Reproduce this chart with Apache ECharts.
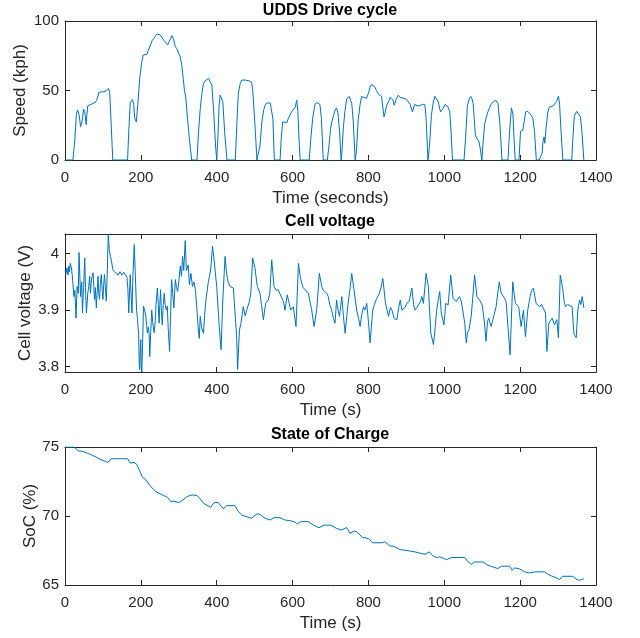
<!DOCTYPE html>
<html>
<head>
<meta charset="utf-8">
<script src="https://cdn.jsdelivr.net/npm/echarts@6/dist/echarts.min.js"></script>
<style>
html,body{margin:0;padding:0;background:#fff;}
#chart{width:640px;height:638px;}
</style>
</head>
<body>
<div id="chart"></div>
<script>
// ---- Data ----
const titles = ['UDDS Drive cycle', 'Cell voltage', 'State of Charge'];
const xTickLabels = [0, 200, 400, 600, 800, 1000, 1200, 1400];

const speedTime = [0,21,26,30,33,37,41,45,49,52,55.6,58,60,65,72,80,85,89,95,102,106,110,115,118,121,126,165,168,172,175,178,181,184,188,192,197,202,206,211,216,220,225,230,234,238,242.5,247,251,255,260,265,270.5,276,282,286,291,295,299.5,304,308,312,315,318,321.5,328,334,348,352,356.6,361,365,370,378.5,383,387,392,397,400,403,406,409,412,416,421,427,449,453,457,462,466,475,485,492,495,497,502,506,510,514,519,524,527.6,532,536,541,545,548,552,567,570,574,579,585,589,593,597,602,607,611,614,617,620,644,648,653,659,663,668,672,676,681,691.6,696,700,703,708,712,716,720,724,728,730,733.8,738,742.6,749.6,753,756,760,765,768,773,778,782,788,795,800,804,808,812,817,821,826,830,834.5,838,841,844,848,853,857,861,865,868,872,878.5,884,891.6,898,904.7,910,916,922,928,935.5,942,948.7,952,957,961,966,970,975,980,984,990,997,1002,1006,1010,1014.5,1018,1021.6,1052,1056,1061,1066,1070,1073,1076,1079,1082,1087,1091,1095,1099,1103,1106.6,1111,1115,1120,1124,1130,1135.5,1139,1141.6,1147,1152,1168,1172,1177,1181,1184,1187,1197,1201,1207,1211,1214.5,1220,1225,1230,1233.7,1238,1242.6,1250,1255,1258,1260,1263,1265,1268,1273,1277,1282,1287,1291,1296,1301,1304,1308,1312.6,1336,1340,1343,1349.5,1354,1359,1363,1368,1369];
const speedKph = [0,0,15,33,36,33,24,28,36.5,35,25.5,33,39,40,40.5,41.5,44,48.5,49,49,48,50,51.5,48,30,0,0,20,41.5,42,43.5,40,30,27.4,40,58.7,70,75.5,76,76,79,82.7,86,87.5,89,90.6,91,90,88.5,86.3,85,82.7,86,89.4,87,81.5,80,79,74,68,58,50,46,34.6,15,0,0,20,37,48,55,57,58.7,58,54,35,10,0,15,38,46.6,47,42,20,0,0,25,48,55,57.5,57.5,57,56,50,41.8,20,0,0,10,27.4,36,39.4,41,41.5,41,40,30,0,0,15,27.4,28,27,30,32.2,34.5,35.8,38,43,35,15,0,0,15,30,40,41.5,42.3,40,30,0,0,10,22,27,32,35.8,37.5,33,20,0,5,23,35,44,45.7,45,40.7,28,0,5,29,40,45.7,45,44.5,48,52,54.3,54,52.6,50,47.4,47,45.7,38,31,34,39.4,42,45,46.2,43,39.4,43,46.6,45,44.5,44,42,40,34.6,40,39,39,40,40,30,0,10,32,40,45.9,45,42,34.6,37,40,40.6,38,34.6,20,0,0,15,39.4,44,45.7,44,40.7,30,17.8,15,13.5,8,0,15,26.2,31,34.6,38,40.7,42,43,42,40.7,25,0,0,20,37.5,33,15,0,0,20.7,21.5,28,34.6,35,34,32,29.7,20,0,0,1,5,13,16.6,12,22,34.6,38,38,39,39.4,42,46,40,20,0,0,20,32,35,34,31,20,0,0];

const voltTime = [0,3,5,8,10,12,14,17,20,23.5,26,29,32,35,37,41,44,46,49,52,54,56.5,60,62.6,65,67,70,74,76,78,80,82.6,85,87,89,91,93,95.7,98,100,102,104,107,109,112,114,117,120,123,126,130,135,140,145,150,155,160,163.5,166,168,170,172,174,176.5,179,182.6,185,188.7,191,194,196,197,199,200,201,202.6,205,207,210,213,215,217,220,222,223.5,226,228.7,231,235,238,240,243.5,246,248,250,252,254,256.5,259,261.7,264,267,269.6,272,275.7,278,281,284,287,289,291,294,297,300,304,307,310,313,317,320,325,328,332,336,340,344,348,351,354,356.6,360,365,368,372,378,384,389,393,400,406,411.5,416,422,426,430,435,440,444,448,453,455,460,464,470,475,479,486,490,494.7,501,507,514,518,523,529,536,540,545,551,557,562.5,566,571,576,580,586,590,595,602,609,615.5,620,624,628,633,637,641.7,646,650.5,656.6,663.6,670.6,676.8,681,685.5,690,694,698,703,708,712,716,720,723.7,729.8,734,738.6,743,747.4,752,756,762,769,774,778,782,786.8,791,795.6,800,804.4,811.4,816,820,825,829,833,838,845,849,853,858,862,868,875,880,884,888,892.5,897,901,907,914.5,919,923,928,932,937,941,945,952,958,964.5,971.5,976,980,984,988,992,999,1004,1010,1017,1023,1027,1031.6,1036,1040,1045,1049,1054,1058,1061,1065,1071,1076,1080,1086,1093,1100,1106,1110,1114,1117,1123.5,1127,1130.5,1136.6,1141,1145,1150,1155,1158.6,1163,1167.4,1173.5,1180.5,1184,1187.5,1192,1196,1202.6,1208.8,1214,1220,1226.3,1230,1235,1242,1246,1251,1256,1260,1267,1270.5,1275.7,1280,1284.5,1290.6,1296.8,1301,1305.7,1309,1312.6,1316,1319.6,1325,1330,1337,1341.6,1344,1347.8,1352,1356.6,1360,1363.6,1368];
const voltV = [3.970,3.965,3.975,3.962,3.978,3.968,3.983,3.975,3.955,3.924,3.935,3.886,3.942,3.93,4.002,3.924,3.95,3.895,3.94,3.992,3.94,3.895,3.93,3.942,3.96,3.93,3.955,3.966,3.94,3.919,3.94,3.904,3.935,3.96,3.93,3.919,3.945,3.963,3.935,3.919,3.945,3.963,3.935,3.916,3.98,4.0347,4.005,3.995,3.985,3.972,3.968,3.965,3.962,3.968,3.962,3.967,3.962,3.958,3.935,3.895,3.93,3.963,3.93,3.895,3.96,4.016,3.97,3.90,3.885,3.857,3.80,3.795,3.84,3.848,3.80,3.7906,3.85,3.907,3.90,3.889,3.875,3.86,3.87,3.855,3.818,3.86,3.90,3.88,3.86,3.88,3.91,3.939,3.91,3.877,3.91,3.936,3.90,3.874,3.91,3.93,3.91,3.90,3.907,3.87,3.827,3.88,3.954,3.93,3.904,3.93,3.954,3.94,3.933,3.95,3.978,3.96,3.995,3.97,4.023,3.97,3.98,3.945,3.965,3.942,3.95,3.935,3.90,3.87,3.85,3.889,3.87,3.859,3.89,3.921,3.95,3.971,4.013,3.989,3.942,3.877,3.83,3.918,3.995,3.965,3.95,3.942,3.945,3.939,3.936,3.848,3.795,3.865,3.877,3.906,3.89,3.90,3.915,3.93,3.992,3.974,3.942,3.93,3.91,3.883,3.912,3.918,3.93,3.989,3.942,3.935,3.936,3.93,3.93,3.915,3.90,3.927,3.915,3.90,3.906,3.871,3.983,3.96,3.948,3.94,3.936,3.935,3.93,3.915,3.90,3.871,3.90,3.965,3.942,3.935,3.933,3.93,3.924,3.91,3.90,3.885,3.877,3.918,3.90,3.889,3.924,3.89,3.859,3.89,3.918,3.94,3.965,3.936,3.90,3.885,3.871,3.89,3.906,3.90,3.912,3.88,3.842,3.90,3.91,3.918,3.92,3.93,3.94,3.956,3.912,3.90,3.889,3.905,3.90,3.885,3.883,3.905,3.918,3.90,3.90,3.905,3.912,3.915,3.939,3.91,3.90,3.905,3.906,3.915,3.924,3.912,3.965,3.942,3.859,3.839,3.87,3.90,3.918,3.933,3.895,3.874,3.912,3.909,3.962,3.921,3.918,3.915,3.92,3.924,3.915,3.912,3.877,3.842,3.86,3.865,3.889,3.93,3.962,3.924,3.918,3.909,3.877,3.845,3.88,3.886,3.871,3.88,3.877,3.906,3.93,3.95,3.93,3.925,3.921,3.915,3.912,3.821,3.95,3.93,3.912,3.91,3.906,3.871,3.90,3.853,3.90,3.924,3.935,3.939,3.912,3.915,3.906,3.91,3.912,3.895,3.827,3.877,3.88,3.886,3.874,3.883,3.851,3.962,3.95,3.936,3.915,3.906,3.91,3.909,3.906,3.859,3.855,3.851,3.90,3.918,3.91,3.924,3.904];

const socTime = [0,25,34,47,58,69,82,95,106.5,113.5,122,143,165,172,182,188.6,195.6,204,213,226,239,257,270,279,287,300,311,322,335,348,356.6,365,378,384,393,404,418,426,448,457,466,492,505.6,514,527.6,540.8,551,567,580,593,604,612.7,621.5,641.7,654.8,669.7,682.9,700.4,716.2,729.4,742.5,751.3,761.8,768.9,784.6,799.6,811,834.6,843.4,856.6,865.4,883,905,922.5,940,949,960.5,971,979.8,988,1006,1019,1054,1063,1071,1080,1102,1115,1128,1141.4,1150,1172,1179,1185,1198.7,1211.8,1225,1238,1264.5,1273,1282,1295,1304,1311,1339,1350,1357,1368];
const socPct = [75,75,74.73,74.68,74.56,74.44,74.27,74.08,73.96,73.88,74.15,74.15,74.15,73.83,73.88,73.76,73.35,72.82,72.62,72.14,71.77,71.53,71.36,71.04,71.07,70.97,71.17,71.41,71.53,71.48,71.24,70.92,70.73,70.63,70.97,70.97,70.51,70.75,70.75,70.32,70.07,69.83,70.15,70.12,69.83,69.71,69.88,69.88,69.71,69.66,69.59,69.42,69.59,69.59,69.34,69.15,69.34,69.34,69.1,68.98,69.17,68.74,68.91,68.86,68.45,68.37,68.06,68.06,68.13,67.82,67.82,67.57,67.48,67.4,67.28,67.23,67.4,67.09,66.99,67.04,66.84,66.99,66.99,66.67,66.5,66.67,66.67,66.43,66.31,66.19,66.36,66.36,66.07,66.24,66.17,65.95,65.87,65.95,65.95,65.78,65.66,65.53,65.39,65.63,65.63,65.39,65.34,65.46];

const xAxisNames = ['Time (seconds)', 'Time (s)', 'Time (s)'];
const yAxisNames = ['Speed (kph)', 'Cell voltage (V)', 'SoC (%)'];
const yRanges = [[0, 100, 50], [3.7906, 4.0347, null], [65, 75, 5]];
const voltTicks = [3.8, 3.9, 4.0];

// ---- Chart ----
const pair = (ts, vs) => ts.map((t, i) => [t, vs[i]]);
const seriesData = [pair(speedTime, speedKph), pair(voltTime, voltV), pair(socTime, socPct)];

const FONT = 'Liberation Sans, Arial, Helvetica, sans-serif';
const AX = '#262626';
const grids = [
  {left: 65, width: 531, top: 21, height: 139},
  {left: 65, width: 531, top: 234, height: 138},
  {left: 65, width: 531, top: 447, height: 138}
];
const titleCenters = [10.5, 221.5, 435];
const xNameGaps = [30, 30, 30];
const yNameGaps = [36, 31, 26.5];

const xAxes = [], yAxes = [], series = [];
grids.forEach((g, i) => {
  const base = {
    gridIndex: i, type: 'value', min: 0, max: 1400, interval: 200,
    axisLine: {show: true, onZero: false, lineStyle: {color: AX, width: 1}},
    axisTick: {show: true, inside: true, length: 5, lineStyle: {color: AX, width: 1}},
    splitLine: {show: false}
  };
  xAxes.push(Object.assign({}, base, {
    position: 'bottom',
    axisLabel: {color: AX, fontSize: 15, fontFamily: FONT, margin: 10, formatter: v => String(v)},
    name: xAxisNames[i], nameLocation: 'middle', nameGap: xNameGaps[i], nameMoveOverlap: false,
    nameTextStyle: {color: AX, fontSize: 17, fontFamily: FONT}
  }));
  xAxes.push(Object.assign({}, base, {position: 'top', axisLabel: {show: false}}));

  const r = yRanges[i];
  const yb = {
    gridIndex: i, type: 'value', min: r[0], max: r[1],
    axisLine: {show: true, onZero: false, lineStyle: {color: AX, width: 1}},
    axisTick: {show: true, inside: true, length: 5, lineStyle: {color: AX, width: 1}},
    splitLine: {show: false}
  };
  if (r[2] !== null) yb.interval = r[2];
  let leftLabel = {color: AX, fontSize: 15, fontFamily: FONT, margin: 6, formatter: v => String(v)};
  if (r[2] === null) {
    yb.axisTick = Object.assign({}, yb.axisTick, {customValues: voltTicks});
    leftLabel.customValues = voltTicks;
    leftLabel.formatter = v => String(Math.round(v * 10) / 10);
  }
  yAxes.push(Object.assign({}, yb, {
    position: 'left', axisLabel: leftLabel,
    name: yAxisNames[i], nameLocation: 'middle', nameGap: yNameGaps[i], nameMoveOverlap: false,
    nameTextStyle: {color: AX, fontSize: 17, fontFamily: FONT}
  }));
  yAxes.push(Object.assign({}, yb, {position: 'right', axisLabel: {show: false}}));

  series.push({
    type: 'line', xAxisIndex: i * 2, yAxisIndex: i * 2,
    data: seriesData[i], showSymbol: false, symbol: 'none',
    lineStyle: {color: '#0072BD', width: 1}, itemStyle: {color: '#0072BD'},
    animation: false, silent: true
  });
});

const chart = echarts.init(document.getElementById('chart'), null, {renderer: 'canvas'});
chart.setOption({
  backgroundColor: '#ffffff',
  animation: false,
  title: titles.map((t, i) => ({
    text: t, left: 330, top: titleCenters[i], padding: 0,
    textAlign: 'center', textVerticalAlign: 'middle',
    textStyle: {fontSize: 16, fontWeight: 'bold', color: '#000', fontFamily: FONT}
  })),
  grid: grids,
  xAxis: xAxes,
  yAxis: yAxes,
  series: series
});
</script>
</body>
</html>
